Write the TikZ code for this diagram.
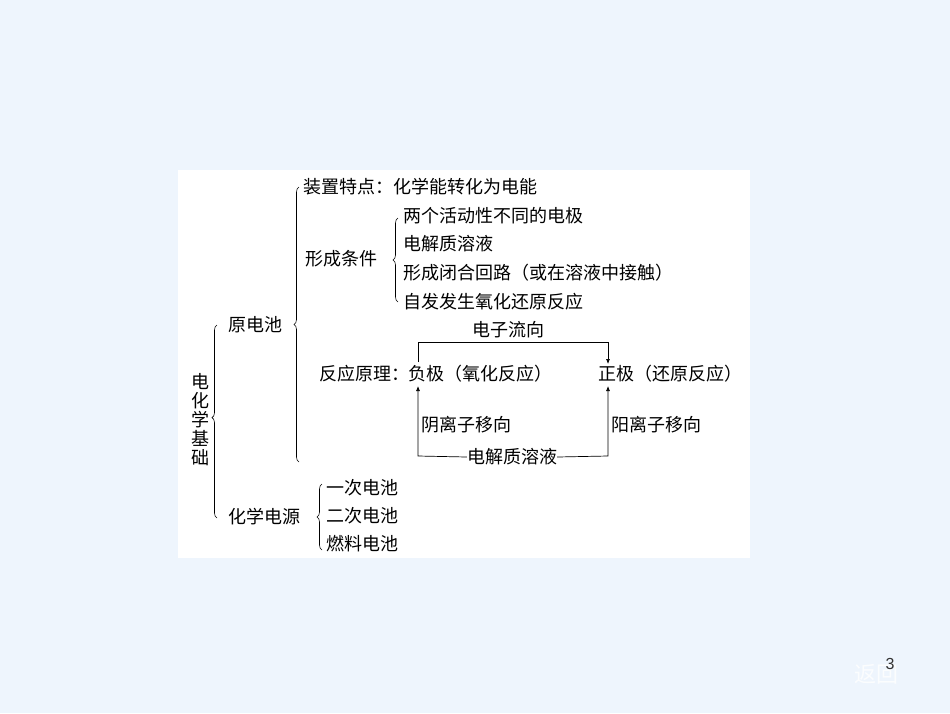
\documentclass[tikz,border=0pt]{standalone}
\usepackage{fontspec}
\setmainfont{Noto Sans CJK SC}
\newfontfamily\arialfont{Liberation Sans}
\usetikzlibrary{decorations.pathreplacing, arrows.meta}
\definecolor{pagebg}{HTML}{EEF5FD}
\begin{document}
\begin{tikzpicture}[x = 1pt, y = -1pt, > = {Latex[length = 5pt, width = 4pt]},
	every node/.style = {font = \fontsize{18}{20}\selectfont, inner sep = 0pt},
	item/.style = {anchor = west},
	curly/.style = {decorate, decoration = {brace, amplitude = 5pt, aspect = #1}, line width = 0.6pt},
	flow/.style = {line width = 0.7pt}]

	% Page and panel
	
	\fill [pagebg] (0, 0) rectangle (950, 713);
	\fill [white] (178, 170) rectangle (750, 558);
	\useasboundingbox (0, 0) rectangle (950, 713);

	% Root
	
	\node [align = center, font = \fontsize{18}{19}\selectfont] (root) at (200, 420) {电\\化\\学\\基\\础};
	\draw [curly = 0.52] (217, 518) -- (217, 325);

	% First level
	
	\node [item] (cell) at (228, 325) {原电池};
	\node [item] (source) at (228, 517) {化学电源};
	\draw [curly = 0.5] (299, 462) -- (299, 187);
	\draw [curly = 0.5] (322, 550) -- (322, 484);

	% Chemical power sources
	
	\node [item] (s1) at (326, 488) {一次电池};
	\node [item] (s2) at (326, 516) {二次电池};
	\node [item] (s3) at (326, 544) {燃料电池};

	% Galvanic cell
	
	\node [item] (feature) at (303, 187) {装置特点：化学能转化为电能};
	\node [item] (cond) at (305, 259) {形成条件};
	\draw [curly = 0.5] (398, 302) -- (398, 218);
	\node [item] (c1) at (403, 216) {两个活动性不同的电极};
	\node [item] (c2) at (403, 244) {电解质溶液};
	\node [item] (c3) at (403, 273) {形成闭合回路（或在溶液中接触）};
	\node [item] (c4) at (403, 302) {自发发生氧化还原反应};

	% Reaction principle
	
	\node [anchor = east] (principle) at (410, 374) {反应原理：};
	\node [item] (neg) at (408, 374) {负极（氧化反应）};
	\node [item] (pos) at (598, 374) {正极（还原反应）};
	\node (electron) at (508, 330) {电子流向};
	\node (solution) at (512, 457) {电解质溶液};
	\node [item] (anion) at (421, 425) {阴离子移向};
	\node [item] (cation) at (611, 425) {阳离子移向};

	\coordinate (nt) at (418, 342);
	\coordinate (pt) at (608, 342);
	\coordinate (nb) at (418, 456);
	\coordinate (pb) at (608, 456);

	\draw [flow, ->] (418, 362) -- (nt) -- (pt) -- (608, 364);
	\draw [flow, ->] (solution.west) -- (nb) -- (418, 386);
	\draw [flow, ->] (solution.east) -- (pb) -- (608, 386);

	% Page number
	
	\node [font = \fontsize{22}{22}\selectfont, text = white, opacity = 0.8] (back) at (876, 674) {返回};
	\node [font = \fontsize{16}{16}\selectfont\arialfont, text = black!80] (page) at (890, 664) {3};

\end{tikzpicture}
\end{document}
